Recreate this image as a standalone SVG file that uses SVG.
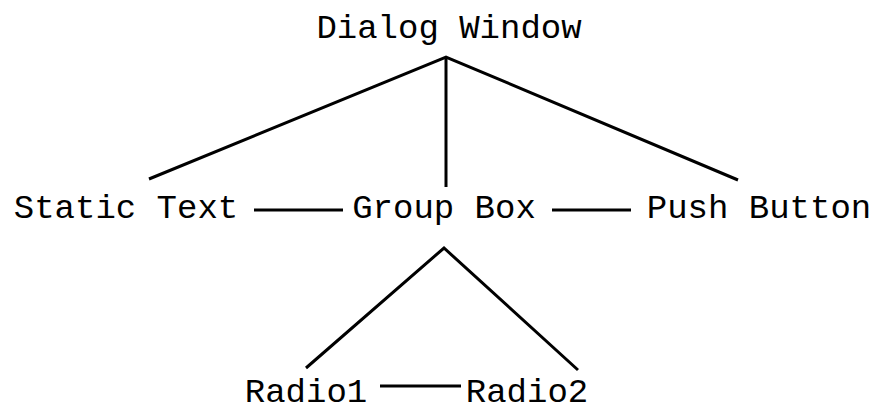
<svg xmlns="http://www.w3.org/2000/svg" width="885" height="414" viewBox="0 0 885 414">
  <style>
    .lbl { font-family: "Liberation Mono", "DejaVu Sans Mono", monospace; font-size: 34px; fill: #000; text-anchor: middle; }
    .edge { stroke: #000; stroke-width: 3; fill: none; stroke-linecap: butt; stroke-linejoin: miter; }
  </style>
  <rect width="885" height="414" fill="#fff"/>
  <g id="connectors">
    <path class="edge" d="M149 179 L446 57 L738 180"/>
    <line class="edge" x1="446" y1="57" x2="446" y2="187"/>
    <line class="edge" x1="254" y1="210" x2="343" y2="210"/>
    <line class="edge" x1="552" y1="210" x2="631" y2="210"/>
    <path class="edge" d="M306 368 L444 248 L578 370"/>
    <line class="edge" x1="380" y1="386" x2="461" y2="386"/>
  </g>
  <g id="dialog-window"><text class="lbl" x="449" y="38">Dialog Window</text></g>
  <g id="static-text"><text class="lbl" x="126" y="218">Static Text</text></g>
  <g id="group-box"><text class="lbl" x="444" y="218">Group Box</text></g>
  <g id="push-button"><text class="lbl" x="759" y="218">Push Button</text></g>
  <g id="radio1"><text class="lbl" x="306" y="402">Radio1</text></g>
  <g id="radio2"><text class="lbl" x="527" y="402">Radio2</text></g>
</svg>
